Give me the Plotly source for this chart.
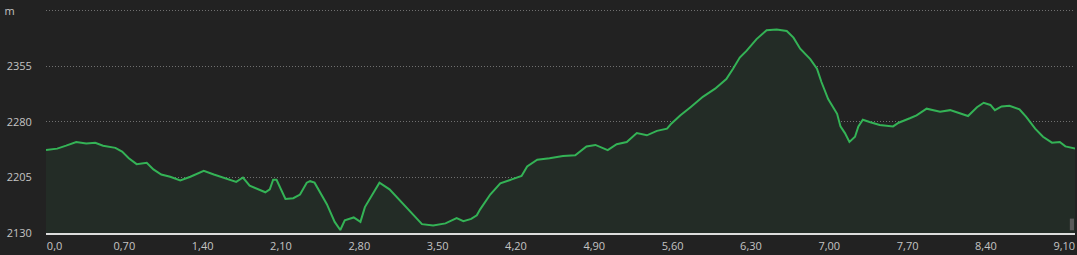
import plotly.graph_objects as go

# distance (km) and elevation (m)
distance_km = [0.00, 0.10, 0.18, 0.27, 0.36, 0.44, 0.51, 0.62, 0.68, 0.74, 0.81, 0.90, 0.96, 1.03,
               1.11, 1.20, 1.29, 1.41, 1.50, 1.58, 1.70, 1.76, 1.82, 1.96, 2.00, 2.03, 2.06, 2.14,
               2.21, 2.27, 2.33, 2.36, 2.40, 2.51, 2.58, 2.63, 2.67, 2.75, 2.81, 2.85, 2.91, 2.98,
               3.07, 3.16, 3.25, 3.36, 3.46, 3.57, 3.67, 3.73, 3.80, 3.85, 3.88, 3.97, 4.06, 4.15,
               4.25, 4.30, 4.39, 4.50, 4.62, 4.73, 4.83, 4.91, 5.02, 5.10, 5.19, 5.28, 5.37, 5.46,
               5.55, 5.59, 5.67, 5.76, 5.87, 5.98, 6.08, 6.14, 6.20, 6.26, 6.35, 6.44, 6.53, 6.62,
               6.68, 6.74, 6.83, 6.89, 6.93, 6.99, 7.07, 7.10, 7.14, 7.18, 7.23, 7.26, 7.30, 7.36,
               7.45, 7.57, 7.62, 7.72, 7.78, 7.87, 7.99, 8.08, 8.17, 8.24, 8.32, 8.38, 8.44, 8.48,
               8.54, 8.61, 8.70, 8.76, 8.84, 8.91, 8.99, 9.06, 9.11, 9.20]
elevation_m = [2242, 2244, 2248, 2253, 2251, 2252, 2248, 2245, 2240, 2231, 2223, 2225, 2216, 2209,
               2206, 2201, 2206, 2214, 2209, 2205, 2199, 2205, 2194, 2185, 2189, 2202, 2202, 2176,
               2177, 2182, 2198, 2200, 2198, 2169, 2145, 2134, 2147, 2151, 2145, 2165, 2180, 2198,
               2189, 2174, 2160, 2142, 2140, 2143, 2150, 2146, 2149, 2154, 2162, 2182, 2197, 2202,
               2207, 2220, 2229, 2231, 2234, 2235, 2247, 2249, 2242, 2250, 2253, 2265, 2262, 2268,
               2271, 2278, 2289, 2300, 2314, 2325, 2338, 2352, 2367, 2376, 2392, 2404, 2405, 2403,
               2394, 2379, 2365, 2352, 2334, 2311, 2291, 2274, 2265, 2253, 2260, 2274, 2283, 2280,
               2276, 2274, 2279, 2285, 2289, 2298, 2294, 2296, 2291, 2288, 2300, 2306, 2303, 2296,
               2301, 2302, 2297, 2287, 2271, 2260, 2252, 2253, 2247, 2244]

x_tick_vals = [0.0, 0.7, 1.4, 2.1, 2.8, 3.5, 4.2, 4.9, 5.6, 6.3, 7.0, 7.7, 8.4, 9.1]
x_tick_text = ["\u00a0" * 6 + "0,0", "0,70", "1,40", "2,10", "2,80", "3,50", "4,20", "4,90",
               "5,60", "6,30", "7,00", "7,70", "8,40", "9,10"]
y_tick_vals = [2130, 2205, 2280, 2355, 2430]
y_tick_text = ["2130", "2205", "2280", "2355", "m" + "\u00a0" * 6]

BG = "#222222"
LABEL = "#c4c4c4"

fig = go.Figure()
fig.add_trace(go.Scatter(
    x=distance_km, y=elevation_m, mode="lines",
    line=dict(color="#34b356", width=2),
    fill="tozeroy", fillcolor="#232c26",
    hoverinfo="skip", showlegend=False,
))

fig.update_layout(
    width=1077, height=255,
    margin=dict(l=46, r=2, t=8, b=19),
    paper_bgcolor=BG, plot_bgcolor=BG,
    font=dict(family="Open Sans", size=11, color=LABEL),
    xaxis=dict(
        range=[0, 9.196], tickvals=x_tick_vals, ticktext=x_tick_text,
        showgrid=False, zeroline=False,
        showline=True, linecolor="#dcdcdc", linewidth=2,
        ticks="outside", ticklen=2, tickcolor="rgba(0,0,0,0)",
        tickfont=dict(size=11, color=LABEL),
    ),
    yaxis=dict(
        range=[2130, 2434], tickvals=y_tick_vals, ticktext=y_tick_text,
        showgrid=True, gridcolor="#707070", griddash="1px,2px", gridwidth=1,
        zeroline=False, showline=False,
        ticks="outside", ticklen=11, tickcolor="rgba(0,0,0,0)",
        tickfont=dict(size=11, color=LABEL),
    ),
    shapes=[dict(type="rect", xref="paper", yref="paper",
                 x0=0.995, x1=0.999, y0=0.012, y1=0.064,
                 fillcolor="#5a5a5a", line=dict(width=0))],
)

fig.write_html("out.html")
